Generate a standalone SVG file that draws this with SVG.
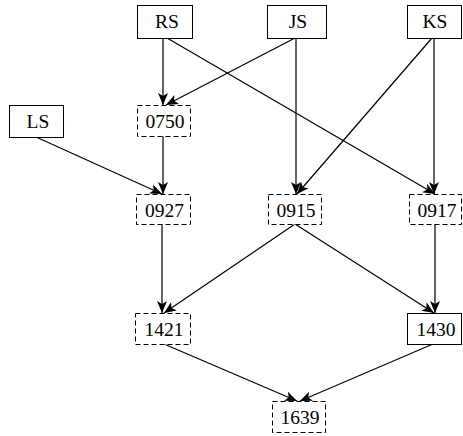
<svg xmlns="http://www.w3.org/2000/svg" width="463" height="436" viewBox="0 0 463 436">
<style>
.n rect{fill:#fff;stroke:#000;stroke-width:1}
.d rect{stroke-dasharray:5,3}
.n text{font-family:"Liberation Serif","Times New Roman",serif;font-size:19.5px;text-anchor:middle;fill:#000}
.e line{stroke:#000;stroke-width:1.2;marker-end:url(#a)}
</style>
<defs>
<marker id="a" viewBox="0 0 12 12" refX="12" refY="6" markerWidth="12" markerHeight="12" markerUnits="userSpaceOnUse" orient="auto">
<path d="M0,1 L12,6 L0,11 L3,6 z" fill="#000"/>
</marker>
</defs>
<g class="e">
<line x1="163" y1="38" x2="163" y2="105"/>
<line x1="295" y1="38" x2="166" y2="105"/>
<line x1="167" y1="38" x2="435" y2="194"/>
<line x1="296" y1="38" x2="296" y2="194"/>
<line x1="432" y1="38" x2="297" y2="194"/>
<line x1="434" y1="38" x2="434" y2="194"/>
<line x1="36" y1="137" x2="162" y2="194"/>
<line x1="163" y1="136" x2="163" y2="194"/>
<line x1="162" y1="224" x2="162" y2="313"/>
<line x1="295" y1="224" x2="164" y2="313"/>
<line x1="295" y1="224" x2="434" y2="313"/>
<line x1="435" y1="224" x2="435" y2="313"/>
<line x1="164" y1="344" x2="297" y2="401"/>
<line x1="433" y1="344" x2="300" y2="401"/>
</g>
<g id="RS" class="n"><rect x="137.5" y="5.5" width="55" height="33"/><text x="167" y="28">RS</text></g>
<g id="JS" class="n"><rect x="267.5" y="5.5" width="59" height="33"/><text x="298" y="28">JS</text></g>
<g id="KS" class="n"><rect x="407.5" y="5.5" width="54" height="33"/><text x="435" y="28">KS</text></g>
<g id="LS" class="n"><rect x="9.5" y="105.5" width="54" height="32"/><text x="38" y="128">LS</text></g>
<g id="n0750" class="n d"><rect x="137.5" y="105.5" width="53" height="31"/><text x="165" y="127.5">0750</text></g>
<g id="n0927" class="n d"><rect x="136.5" y="194.5" width="54" height="30"/><text x="164.5" y="216.5">0927</text></g>
<g id="n0915" class="n d"><rect x="268.5" y="194.5" width="53" height="30"/><text x="296" y="216.5">0915</text></g>
<g id="n0917" class="n d"><rect x="409.5" y="194.5" width="52" height="30"/><text x="437" y="216.5">0917</text></g>
<g id="n1421" class="n d"><rect x="135.5" y="313.5" width="55" height="31"/><text x="164" y="336">1421</text></g>
<g id="n1430" class="n"><rect x="407.5" y="313.5" width="54" height="31"/><text x="436" y="336">1430</text></g>
<g id="n1639" class="n d"><rect x="272.5" y="401.5" width="53" height="31"/><text x="300" y="424">1639</text></g>
</svg>
